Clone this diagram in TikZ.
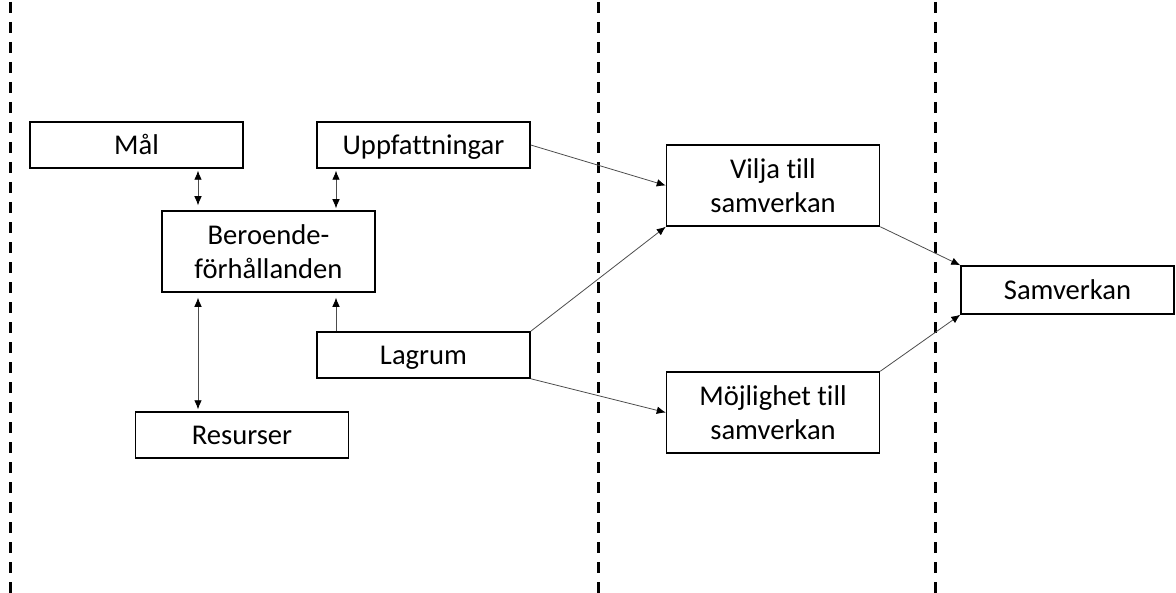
\documentclass[tikz,border=0pt]{standalone}
\usepackage{fontspec}
\setmainfont{Carlito}[Ligatures=NoCommon]
\usetikzlibrary{arrows.meta}

\tikzset{
    box/.style={draw, line width=0.75pt, minimum width=106.5pt, inner sep=0pt,
        align=center, font=\fontsize{14.3}{17}\selectfont},
    onebox/.style={box, minimum height=23pt, text height=9.2pt, text depth=0pt},
    twobox/.style={box, minimum height=40.5pt},
    tip/.style={Latex[length=4.5pt, width=3.8pt, color=black]},
    link/.style={line width=0.4pt, draw=black!70, -{Latex[length=4.5pt,width=3.8pt,color=black]}},
    dbl/.style={link, {Latex[length=4.5pt,width=3.8pt,color=black]}-{Latex[length=4.5pt,width=3.8pt,color=black]}},
    border/.style={line width=1.5pt, dash pattern=on 5.5pt off 4.5pt}
}

\begin{document}
\begin{tikzpicture}[x=0.5pt, y=-0.5pt]
    \useasboundingbox (0, 0) rectangle (1176, 593);

    \foreach \x in {10, 598, 935} {
        \draw[border] (\x, 2) -- (\x, 593);
    };

    \node[onebox] (mal) at (136.5, 145) {Mål};
    \node[onebox] (upp) at (423.5, 145) {Uppfattningar};
    \node[twobox] (ber) at (268.5, 251.5) {Beroende-\\förhållanden};
    \node[onebox] (lag) at (423.5, 355) {Lagrum};
    \node[onebox] (res) at (242, 435) {Resurser};
    \node[twobox] (vilja) at (773, 185.5) {Vilja till\\samverkan};
    \node[twobox] (moj) at (773, 412.5) {Möjlighet till\\samverkan};
    \node[onebox, minimum height=24pt] (sam) at (1067.5, 290) {Samverkan};

    \draw[dbl, shorten <=2.5pt, shorten >=1pt] ([xshift=-35.25pt]ber.north) -- ([xshift=-35.25pt]ber.north |- mal.south);
    \draw[dbl, shorten <=1pt, shorten >=1pt] ([xshift=33.75pt]ber.north) -- ([xshift=33.75pt]ber.north |- upp.south);
    \draw[dbl, shorten <=1pt, shorten >=2.5pt] ([xshift=-35.25pt]ber.south |- res.north) -- ([xshift=-35.25pt]ber.south);
    \draw[link, shorten >=2.5pt] ([xshift=33.75pt]ber.south |- lag.north) -- ([xshift=33.75pt]ber.south);

    \draw[link] (upp.east) -- (vilja.west);
    \draw[link] (lag.north east) -- (vilja.south west);
    \draw[link] (lag.south east) -- (moj.west);
    \draw[link] (vilja.south east) -- (sam.north west);
    \draw[link] (moj.north east) -- (sam.south west);
\end{tikzpicture}
\end{document}
